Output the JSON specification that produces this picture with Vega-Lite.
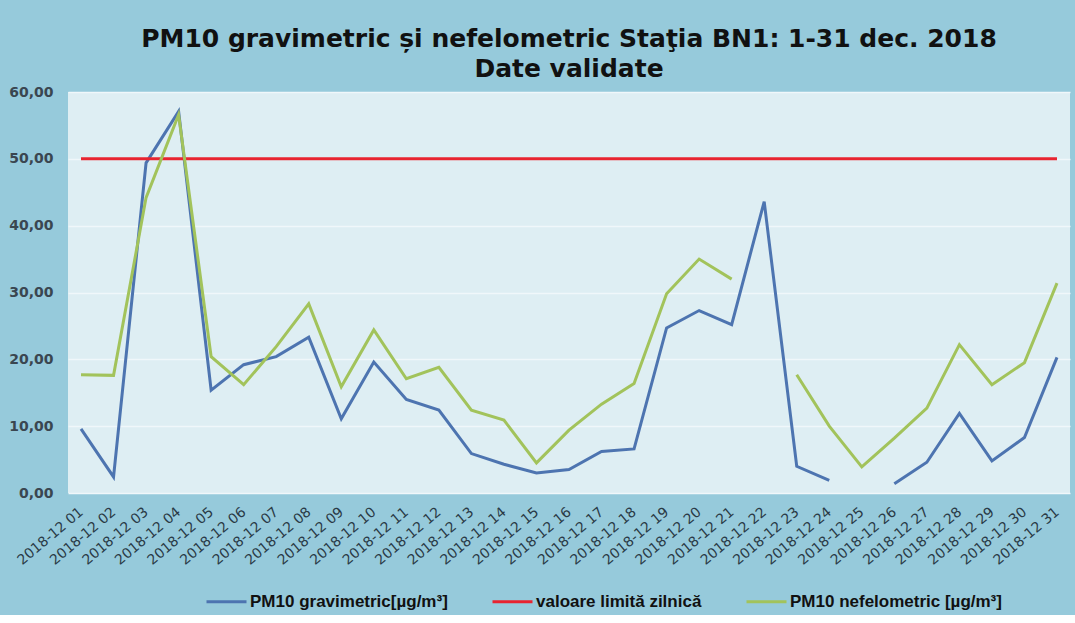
{
  "$schema": "https://vega.github.io/schema/vega-lite/v6.json",
  "width": 1002,
  "height": 401,
  "padding": {"left": 8, "top": 27, "right": 5, "bottom": 5},
  "background": "#96cadb",
  "title": {
    "text": ["PM10 gravimetric și nefelometric Staţia BN1: 1-31 dec. 2018", "Date validate"],
    "font": "DejaVu Sans",
    "fontSize": 25,
    "fontWeight": "bold",
    "color": "#111111",
    "lineHeight": 30,
    "anchor": "middle",
    "offset": 3
  },
  "data": {
    "values": [
      {"d": "2018-12 01", "g": 9.6, "l": 50, "n": 17.7},
      {"d": "2018-12 02", "g": 2.4, "l": 50, "n": 17.6},
      {"d": "2018-12 03", "g": 49.4, "l": 50, "n": 44.2},
      {"d": "2018-12 04", "g": 57.1, "l": 50, "n": 56.6},
      {"d": "2018-12 05", "g": 15.4, "l": 50, "n": 20.4},
      {"d": "2018-12 06", "g": 19.2, "l": 50, "n": 16.2},
      {"d": "2018-12 07", "g": 20.4, "l": 50, "n": 21.9},
      {"d": "2018-12 08", "g": 23.3, "l": 50, "n": 28.3},
      {"d": "2018-12 09", "g": 11.1, "l": 50, "n": 15.9},
      {"d": "2018-12 10", "g": 19.6, "l": 50, "n": 24.4},
      {"d": "2018-12 11", "g": 14.0, "l": 50, "n": 17.1},
      {"d": "2018-12 12", "g": 12.4, "l": 50, "n": 18.8},
      {"d": "2018-12 13", "g": 5.9, "l": 50, "n": 12.4},
      {"d": "2018-12 14", "g": 4.3, "l": 50, "n": 10.9},
      {"d": "2018-12 15", "g": 3.0, "l": 50, "n": 4.5},
      {"d": "2018-12 16", "g": 3.5, "l": 50, "n": 9.4},
      {"d": "2018-12 17", "g": 6.2, "l": 50, "n": 13.3},
      {"d": "2018-12 18", "g": 6.6, "l": 50, "n": 16.4},
      {"d": "2018-12 19", "g": 24.7, "l": 50, "n": 29.8},
      {"d": "2018-12 20", "g": 27.3, "l": 50, "n": 35.0},
      {"d": "2018-12 21", "g": 25.2, "l": 50, "n": 32.0},
      {"d": "2018-12 22", "g": 43.6, "l": 50, "n": null},
      {"d": "2018-12 23", "g": 4.0, "l": 50, "n": 17.7},
      {"d": "2018-12 24", "g": 1.9, "l": 50, "n": 10.0},
      {"d": "2018-12 25", "g": null, "l": 50, "n": 3.9},
      {"d": "2018-12 26", "g": 1.4, "l": 50, "n": 8.2},
      {"d": "2018-12 27", "g": 4.6, "l": 50, "n": 12.7},
      {"d": "2018-12 28", "g": 11.9, "l": 50, "n": 22.2},
      {"d": "2018-12 29", "g": 4.8, "l": 50, "n": 16.2},
      {"d": "2018-12 30", "g": 8.3, "l": 50, "n": 19.5},
      {"d": "2018-12 31", "g": 20.3, "l": 50, "n": 31.4}
    ]
  },
  "transform": [{"fold": ["g", "l", "n"], "as": ["series", "value"]}],
  "mark": {"type": "line", "strokeWidth": 3, "invalid": "break-paths-show-domains", "strokeJoin": "miter"},
  "encoding": {
    "x": {
      "field": "d",
      "type": "ordinal",
      "sort": null,
      "title": null,
      "scale": {"type": "point", "padding": 0.4},
      "axis": {
        "labelAngle": -40,
        "labelAlign": "right",
        "labelBaseline": "middle",
        "labelFont": "DejaVu Sans",
        "labelFontSize": 14,
        "labelColor": "#2a3a46",
        "labelPadding": 17,
        "ticks": false,
        "domain": false,
        "grid": false
      }
    },
    "y": {
      "field": "value",
      "type": "quantitative",
      "title": null,
      "scale": {"domain": [0, 60], "nice": false},
      "axis": {
        "values": [0, 10, 20, 30, 40, 50, 60],
        "labelExpr": "replace(format(datum.value, '.2f'), '.', ',')",
        "labelFont": "DejaVu Sans",
        "labelFontSize": 14,
        "labelFontWeight": "bold",
        "labelColor": "#3a4650",
        "labelPadding": 15,
        "ticks": false,
        "domain": false,
        "grid": true,
        "gridColor": "#f0f7fa",
        "gridWidth": 1.5
      }
    },
    "color": {
      "field": "series",
      "type": "nominal",
      "scale": {"domain": ["g", "l", "n"], "range": ["#4d74b0", "#e82430", "#a2c35b"]},
      "legend": {
        "title": null,
        "orient": "none",
        "direction": "horizontal",
        "legendX": 137,
        "legendY": 488,
        "symbolType": "stroke",
        "symbolSize": 1600,
        "symbolStrokeWidth": 3,
        "labelFont": "Liberation Sans",
        "labelFontSize": 17,
        "labelFontWeight": "bold",
        "labelColor": "#111111",
        "labelOffset": 2,
        "columnPadding": 38,
        "labelLimit": 400,
        "labelExpr": "datum.label == 'g' ? 'PM10 gravimetric[µg/m³]' : datum.label == 'l' ? 'valoare limită zilnică' : 'PM10 nefelometric [µg/m³]'"
      }
    }
  },
  "config": {
    "view": {"fill": "#deeef3", "stroke": null}
  }
}
